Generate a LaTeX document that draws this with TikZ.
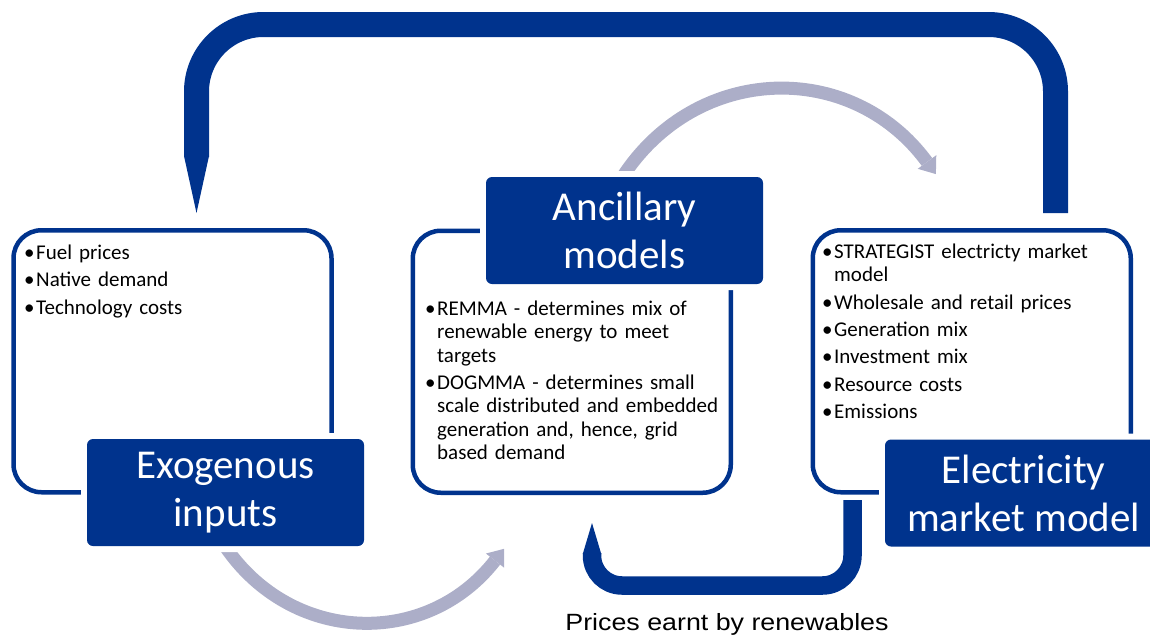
\documentclass[tikz,border=0pt]{standalone}
\usepackage{fontspec}
\setmainfont{Carlito}
\newfontfamily\labelfont[FakeStretch=1.14]{Liberation Sans}
\usetikzlibrary{positioning}
\definecolor{modelblue}{RGB}{0,51,141}
\definecolor{flowgrey}{RGB}{172,174,200}
\hyphenpenalty=10000
\exhyphenpenalty=10000
\newcommand{\bitem}{\par\hangindent=12pt\hangafter=1\noindent\makebox[12pt][l]{\textbullet}}

\tikzset{
  modelframe/.style={draw=modelblue, line width=4.5pt, rounded corners=28pt, minimum width=318pt, minimum height=262pt, inner sep=0pt},
  modeltitle/.style={fill=modelblue, text=white, rounded corners=6pt, minimum width=277pt, minimum height=107pt, inner sep=0pt, align=center, preaction={draw=white, line width=12pt}, font=\fontsize{41}{48}\selectfont},
  bulletlist/.style={anchor=north west, inner sep=0pt, text width=296pt, align=left, font=\fontsize{21}{23.3}\selectfont},
  band/.style={draw=modelblue, line width=#1},
  greyflow/.style={draw=flowgrey, line width=13pt}
}

\begin{document}
\begin{tikzpicture}[x=1pt,y=1pt,yscale=-1,xscale=1]
\clip (0,0) rectangle (1150,637);

% grey flows
\coordinate (inputsflow) at (224.5,545.5);
\coordinate (ancillaryin) at (495,560.6);
\draw [greyflow] (inputsflow) .. controls (291.2,644.5) and (426.5,648.5) .. (ancillaryin);
\draw [shift={(495,560.6)}, rotate=-52.1] [fill=flowgrey] [draw opacity=0] (0,-11.5) -- (15,0) -- (0,11.5) -- cycle;

\coordinate (ancillaryflow) at (622.6,176.7);
\coordinate (marketin) at (927,162);
\draw [greyflow] (ancillaryflow) .. controls (696.8,63.2) and (851.5,59.2) .. (marketin);
\draw [shift={(927,162)}, rotate=53.7] [fill=flowgrey] [draw opacity=0] (0,-11.5) -- (15,0) -- (0,11.5) -- cycle;

% feedback to inputs
\coordinate (marketout) at (1055.5,213);
\coordinate (inputsin) at (196.5,157);
\draw [band=25pt, rounded corners=67pt] (marketout) -- ++(0,-188.5) -| (inputsin);
\draw [fill=modelblue] [draw opacity=0] (184,156) -- (209,156) -- (196.5,213) -- cycle;

% frames
\node (exoframe) [modelframe] at (172.5,361.25) {};
\node (ancframe) [modelframe] at (571.75,361.75) {};
\node (elecframe) [modelframe] at (971.75,361.25) {};

% titles
\node (exotitle) [modeltitle] at (225.5,492.5) {Exogenous\\inputs};
\node (anctitle) [modeltitle] at (624.5,230.5) {Ancillary\\models};
\node (electitle) [modeltitle] at (1023.5,493) {Electricity\\market model};

% bullet lists
\node (exolist) [bulletlist] at (24,232) {\setlength{\parskip}{4pt}%
\bitem Fuel prices
\bitem Native demand
\bitem Technology costs\par};
\node (anclist) [bulletlist] at (425,288) {\setlength{\parskip}{4pt}%
\bitem REMMA - determines mix of renewable energy to meet targets
\bitem DOGMMA - determines small scale distributed and embedded generation and, hence, grid based demand\par};
\node (eleclist) [bulletlist] at (822,231) {\setlength{\parskip}{4pt}%
\bitem STRATEGIST electricty market model
\bitem Wholesale and retail prices
\bitem Generation mix
\bitem Investment mix
\bitem Resource costs
\bitem Emissions\par};

% renewables prices loop
\coordinate (renewout) at (852.5,500);
\coordinate (renewin) at (592,553);
\draw [band=18.5pt, rounded corners=30pt] (renewout) -- ++(0,85.5) -| (renewin);
\draw [fill=modelblue] [draw opacity=0] (582.75,554) -- (601.25,554) -- (592,523) -- cycle;
\node (renewlabel) [anchor=base, inner sep=0pt, font=\labelfont\fontsize{23.5}{28}\selectfont] at (727,630.5) {Prices earnt by renewables};

\end{tikzpicture}
\end{document}
